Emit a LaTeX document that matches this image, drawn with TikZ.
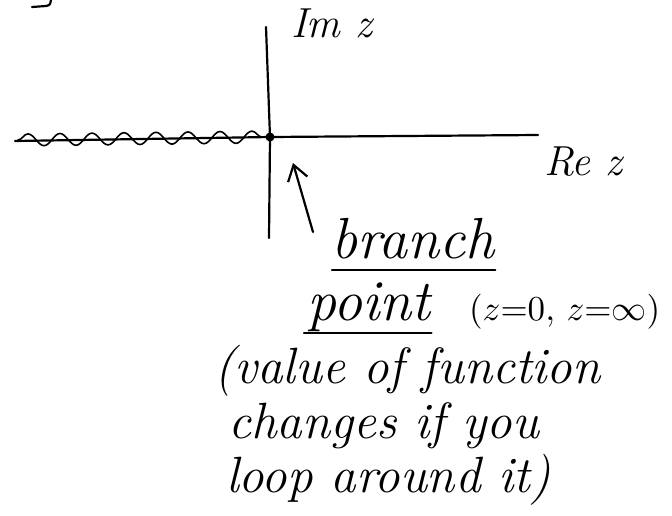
\documentclass[tikz,border=0pt]{standalone}
\usetikzlibrary{arrows.meta,positioning,calc,decorations.pathmorphing}

\begin{document}
\begin{tikzpicture}[x=1pt,y=-1pt,line width=2.2pt,line cap=round,
    hand/.style={font=\fontsize{51}{58}\selectfont\itshape, inner sep=0pt, anchor=base west},
    bighand/.style={hand, font=\fontsize{58}{64}\selectfont\itshape},
    axislabel/.style={font=\fontsize{42}{48}\selectfont\itshape, inner sep=0pt, anchor=base west},
    small/.style={inner sep=0pt, anchor=base west}]
  \useasboundingbox (0,0) rectangle (672,515);
  % stroke cut off at the top edge
  \draw (32,7) -- (46,6) .. controls (50,5) .. (51,0);
  % axes
  \coordinate (top) at (266,27);
  \coordinate (bottom) at (269,238);
  \coordinate (left) at (15,141);
  \coordinate (right) at (538,135);
  \node[circle, fill, inner sep=0pt, minimum size=9pt] (origin) at (270,137) {};
  \draw (top) -- (origin.center) -- (bottom);
  \draw (left) -- (origin.center) -- (right);
  % branch cut
  \coordinate (cutstart) at (18,140);
  \coordinate (cutend) at (262,137);
  \draw[decorate, decoration={snake, segment length=32pt, amplitude=6pt}, line width=1.6pt] (cutstart) -- (cutend);
  \node[axislabel] (imlabel) at (290,37) {Im z};
  \node[axislabel] (relabel) at (543,175) {Re z};
  % branch point label
  \node[bighand] (branch) at (330,258) {branch};
  \node[bighand] (point) at (306,320) {point};
  \node[small] (zvals) at (468,320) {\scalebox{3.5}{$(z{=}0,\,z{=}\infty)$}};
  \draw ($(branch.base west)+(2,12)$) -- ($(branch.base east)+(0,12)$);
  \draw ($(point.base west)+(-2,13)$) -- ($(point.base east)+(0,13)$);
  \node[hand] (line1) at (213,383) {(value of function};
  \node[hand] (line2) at (227,438) {changes if you};
  \node[hand] (line3) at (225,492) {loop around it)};
  \coordinate (tail) at (313,232);
  \coordinate (tip) at (293,163);
  \draw[-{Straight Barb[length=15pt,width=20pt]}] (tail) -- (tip);
\end{tikzpicture}
\end{document}
